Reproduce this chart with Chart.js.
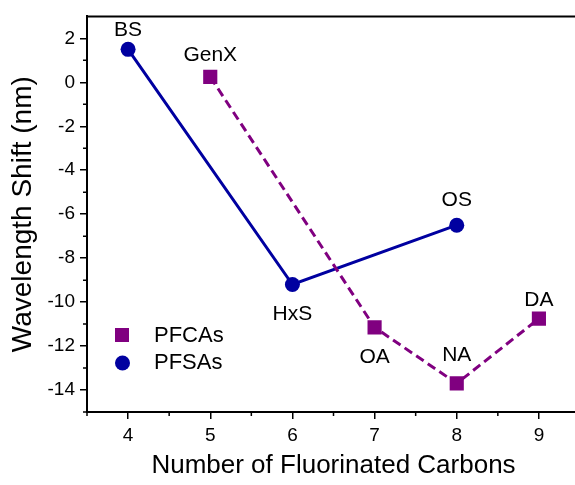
<!DOCTYPE html>
<html>
<head>
<meta charset="utf-8">
<script src="https://cdn.jsdelivr.net/npm/chart.js@4"></script>
<style>
  html, body { margin: 0; padding: 0; background: #fff; overflow: hidden; }
</style>
</head>
<body>
<canvas id="chart" width="580" height="485"></canvas>
<script>
// data
const pfcaCarbons = [5, 7, 8, 9];
const pfcaShift = [0.25, -11.15, -13.7, -10.75];
const pfcaNames = ['GenX', 'OA', 'NA', 'DA'];

const pfsaCarbons = [4, 6, 8];
const pfsaShift = [1.5, -9.2, -6.5];
const pfsaNames = ['BS', 'HxS', 'OS'];

const xTicks = [4, 5, 6, 7, 8, 9];
const yTicks = [2, 0, -2, -4, -6, -8, -10, -12, -14];

// vertical offset of each name from its point (negative = above)
const pfcaNameOffset = [-16, 21, -22, -13];
const pfsaNameOffset = [-13, 20, -19];

const purple = '#800080';
const navy = '#0000a0';
const font = 'Liberation Sans, Arial, sans-serif';

function toPoints(xs, ys) {
  return xs.map((x, i) => ({ x: x, y: ys[i] }));
}

// labels next to the points, minor ticks, top frame and legend
const extras = {
  id: 'extras',
  afterDatasetsDraw(chart) {
    const ctx = chart.ctx;
    const xs = chart.scales.x, ys = chart.scales.y;
    const area = chart.chartArea;
    ctx.save();

    // top frame (right edge falls outside the window)
    ctx.strokeStyle = '#000';
    ctx.lineWidth = 2;
    ctx.beginPath();
    ctx.moveTo(area.left, area.top);
    ctx.lineTo(area.right, area.top);
    ctx.stroke();

    // minor ticks
    ctx.lineWidth = 1.5;
    ctx.beginPath();
    for (let v = 3.5; v <= 9.5; v += 1) {
      const px = xs.getPixelForValue(v);
      ctx.moveTo(px, area.bottom);
      ctx.lineTo(px, area.bottom + 4);
    }
    for (let v = 1; v >= -15; v -= 2) {
      const py = ys.getPixelForValue(v);
      ctx.moveTo(area.left, py);
      ctx.lineTo(area.left - 4, py);
    }
    ctx.stroke();

    // point names
    ctx.fillStyle = '#000';
    ctx.font = '21px ' + font;
    ctx.textAlign = 'center';
    ctx.textBaseline = 'alphabetic';
    const groups = [
      [pfcaCarbons, pfcaShift, pfcaNames, pfcaNameOffset],
      [pfsaCarbons, pfsaShift, pfsaNames, pfsaNameOffset]
    ];
    groups.forEach(g => {
      g[0].forEach((x, i) => {
        const px = xs.getPixelForValue(x);
        const py = ys.getPixelForValue(g[1][i]);
        const off = g[3][i];
        ctx.fillText(g[2][i], px, off < 0 ? py + off : py + off + 15);
      });
    });

    // legend
    ctx.textAlign = 'left';
    ctx.textBaseline = 'middle';
    ctx.fillStyle = purple;
    ctx.fillRect(115, 328, 14, 14);
    ctx.fillStyle = navy;
    ctx.beginPath();
    ctx.arc(122.5, 363, 7.5, 0, Math.PI * 2);
    ctx.fill();
    ctx.fillStyle = '#000';
    ctx.font = '22px ' + font;
    ctx.fillText('PFCAs', 154, 336);
    ctx.fillText('PFSAs', 154, 363);

    ctx.restore();
  }
};

const ctx = document.getElementById('chart').getContext('2d');
new Chart(ctx, {
  type: 'scatter',
  data: {
    datasets: [
      {
        label: 'PFCAs',
        data: toPoints(pfcaCarbons, pfcaShift),
        showLine: true,
        borderColor: purple,
        backgroundColor: purple,
        borderWidth: 3,
        borderDash: [9, 5],
        pointStyle: 'rect',
        pointRadius: 10,
        pointBorderWidth: 0
      },
      {
        label: 'PFSAs',
        data: toPoints(pfsaCarbons, pfsaShift),
        showLine: true,
        borderColor: navy,
        backgroundColor: navy,
        borderWidth: 3,
        pointStyle: 'circle',
        pointRadius: 7.5,
        pointBorderWidth: 0
      }
    ]
  },
  options: {
    responsive: false,
    animation: false,
    layout: { autoPadding: false, padding: { top: 13, right: 0, left: 0, bottom: 0 } },
    plugins: {
      legend: { display: false },
      tooltip: { enabled: false }
    },
    scales: {
      x: {
        type: 'linear',
        min: 3.5,
        max: 9.5,
        afterBuildTicks: s => { s.ticks = xTicks.map(v => ({ value: v })); },
        afterFit: s => { s.height = 73; },
        border: { color: '#000', width: 2 },
        grid: { drawOnChartArea: false, color: '#000', tickLength: 7, lineWidth: 1.5 },
        ticks: { color: '#000', font: { family: font, size: 19 }, padding: 5 },
        title: {
          display: true,
          text: 'Number of Fluorinated Carbons',
          color: '#000',
          font: { family: font, size: 26 },
          padding: { top: 8 }
        }
      },
      y: {
        type: 'linear',
        min: -15,
        max: 3,
        afterBuildTicks: s => { s.ticks = yTicks.map(v => ({ value: v })); },
        afterFit: s => { s.width = 87; },
        border: { color: '#000', width: 2 },
        grid: { drawOnChartArea: false, color: '#000', tickLength: 7, lineWidth: 1.5 },
        ticks: { color: '#000', font: { family: font, size: 19 }, padding: 5 },
        title: {
          display: true,
          text: 'Wavelength Shift (nm)',
          color: '#000',
          font: { family: font, size: 28 },
          padding: { top: 6 }
        }
      }
    }
  },
  plugins: [extras]
});
</script>
</body>
</html>
